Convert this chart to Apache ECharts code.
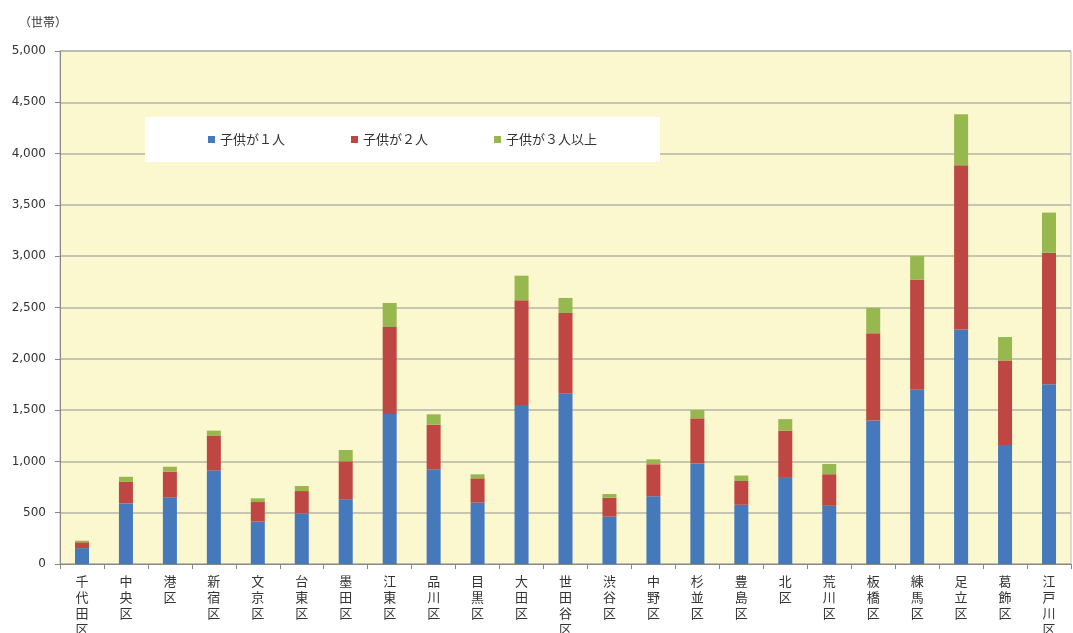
<!DOCTYPE html>
<html>
<head>
<meta charset="utf-8">
<script src="https://cdn.jsdelivr.net/npm/echarts@6/dist/echarts.min.js"></script>
<style>
  html, body { margin: 0; padding: 0; background: #fff; }
  #chart { width: 1073px; height: 633px; }
</style>
</head>
<body>
<div id="chart"></div>
<script>
const wards = ['千代田区', '中央区', '港区', '新宿区', '文京区', '台東区', '墨田区', '江東区',
  '品川区', '目黒区', '大田区', '世田谷区', '渋谷区', '中野区', '杉並区', '豊島区',
  '北区', '荒川区', '板橋区', '練馬区', '足立区', '葛飾区', '江戸川区']
const oneChild = [155, 590, 650, 913, 413, 494, 630, 1462, 923, 598, 1550, 1660, 461, 660, 978, 577, 839, 567, 1399, 1698, 2285, 1160, 1751]
const twoChildren = [57, 210, 250, 335, 191, 217, 371, 848, 435, 237, 1020, 786, 185, 312, 442, 232, 461, 308, 849, 1071, 1601, 823, 1283]
const threePlus = [15, 50, 48, 52, 36, 49, 110, 234, 101, 39, 240, 147, 36, 48, 81, 53, 112, 100, 249, 232, 497, 229, 391]
const seriesNames = ['子供が１人', '子供が２人', '子供が３人以上']
const colors = ['#4579BC', '#BE4744', '#97B74F']

const chart = echarts.init(document.getElementById('chart'))
const font = 'Noto Sans CJK JP'

const series = [oneChild, twoChildren, threePlus].map((data, i) => ({
  name: seriesNames[i],
  type: 'bar',
  stack: 'total',
  barWidth: 14,
  data,
  itemStyle: { color: colors[i] }
}))

chart.setOption({
  animation: false,
  textStyle: { fontFamily: font },
  title: {
    text: '（世帯）',
    left: 14,
    top: 11,
    textStyle: { fontSize: 12, fontWeight: 'normal', color: '#333', fontFamily: font }
  },
  legend: {
    left: 145,
    top: 117,
    padding: [16, 63, 16, 63],
    backgroundColor: '#fff',
    itemWidth: 7,
    itemHeight: 7,
    itemGap: 66,
    icon: 'rect',
    textStyle: { fontSize: 13, color: '#333' }
  },
  grid: {
    left: 60,
    right: 2,
    top: 51,
    bottom: 69,
    outerBoundsMode: 'none',
    containLabel: false,
    show: true,
    backgroundColor: '#FBF7CF',
    borderColor: '#BBBBBB',
    borderWidth: 1
  },
  xAxis: {
    type: 'category',
    data: wards,
    axisLine: { lineStyle: { color: '#888' } },
    axisTick: { show: true, alignWithLabel: false, length: 5, lineStyle: { color: '#888' } },
    axisLabel: {
      interval: 0,
      margin: 9,
      fontSize: 13,
      lineHeight: 16,
      verticalAlign: 'top',
      color: '#333',
      formatter: v => v.split('').join('\n')
    }
  },
  yAxis: {
    type: 'value',
    min: 0,
    max: 5000,
    interval: 500,
    axisLine: { show: true, lineStyle: { color: '#888' } },
    axisTick: { show: true, length: 5, lineStyle: { color: '#888' } },
    splitLine: { lineStyle: { color: '#B5B5A5', width: 1.5 } },
    axisLabel: {
      fontSize: 12,
      color: '#333',
      margin: 14,
      fontFamily: 'DejaVu Sans',
      formatter: v => v.toLocaleString('en-US')
    }
  },
  series
})
</script>
</body>
</html>
